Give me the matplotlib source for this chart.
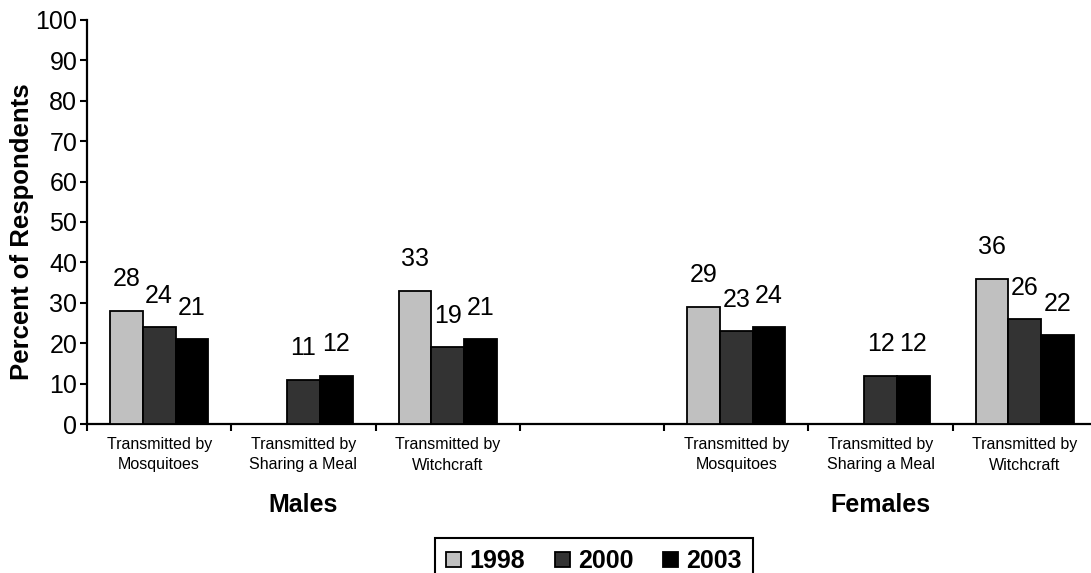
import numpy as np
import matplotlib
matplotlib.use('Agg')
import matplotlib.pyplot as plt
import matplotlib.transforms as mtransforms

plt.rcParams['font.family'] = ['Liberation Sans', 'DejaVu Sans']

# data
years = ['1998', '2000', '2003']
categories = ['Transmitted by\nMosquitoes', 'Transmitted by\nSharing a Meal',
              'Transmitted by\nWitchcraft']
groups = ['Males', 'Females']
males_1998 = [28, np.nan, 33]
males_2000 = [24, 11, 19]
males_2003 = [21, 12, 21]
females_1998 = [29, np.nan, 36]
females_2000 = [23, 12, 26]
females_2003 = [24, 12, 22]
colors = ['#c0c0c0', '#333333', '#000000']

# slot layout: 3 male categories, one empty slot, 3 female categories
slots_m = np.arange(3)
slots_f = np.arange(4, 7)
series = [(males_1998, females_1998), (males_2000, females_2000), (males_2003, females_2003)]

fig = plt.figure(figsize=(10.91, 5.73), dpi=100)
ax = fig.add_axes([87 / 1091, 149 / 573, 1010 / 1091, 404 / 573])

bw = 0.227
for k, (m, f) in enumerate(series):
    xs = np.concatenate([slots_m, slots_f]) + (k - 1) * bw
    vals = np.array(m + f, dtype=float)
    ok = ~np.isnan(vals)
    ax.bar(xs[ok], vals[ok], width=bw, color=colors[k], edgecolor='black',
           linewidth=1.3, label=years[k], zorder=3)
    for x, v in zip(xs[ok], vals[ok]):
        ax.annotate(f'{v:.0f}', (x, v), xytext=(0, 14), textcoords='offset points',
                    ha='center', va='bottom', fontsize=18)

ax.set_xlim(-0.5, 6.5)
ax.set_ylim(0, 100)
ax.set_yticks(np.arange(0, 101, 10))
ax.tick_params(axis='y', labelsize=18, length=5, width=1.5, pad=2)

ax.set_xticks(np.arange(-0.5, 7, 1.0))
ax.set_xticklabels([])
ax.tick_params(axis='x', which='major', length=5, width=1.5, direction='out')
ax.set_xticks(np.concatenate([slots_m, slots_f]), minor=True)
ax.set_xticklabels(categories + categories, minor=True, fontsize=11.5, linespacing=1.5)
ax.tick_params(axis='x', which='minor', length=0, pad=9)

for s in ['top', 'right']:
    ax.spines[s].set_visible(False)
for s in ['left', 'bottom']:
    ax.spines[s].set_linewidth(1.6)

fig.text(22 / 1091, 1 - 232 / 573, 'Percent of Respondents', rotation=90,
         ha='center', va='center', fontsize=18.5, fontweight='bold')

trans = mtransforms.blended_transform_factory(ax.transData, fig.transFigure)
ax.text(slots_m.mean(), 1 - 505 / 573, groups[0], transform=trans,
        ha='center', va='center', fontsize=18, fontweight='bold')
ax.text(slots_f.mean(), 1 - 505 / 573, groups[1], transform=trans,
        ha='center', va='center', fontsize=18, fontweight='bold')

leg = fig.legend(loc='upper center', bbox_to_anchor=(594 / 1091, 1 - 538 / 573),
                 ncol=3, fancybox=False, edgecolor='black', framealpha=1,
                 prop={'weight': 'bold', 'size': 18}, handlelength=0.6,
                 handleheight=0.6, handletextpad=0.32, columnspacing=1.2,
                 borderpad=0.45, borderaxespad=0)
leg.get_frame().set_linewidth(1.5)

fig.savefig('out.png', dpi=100)
